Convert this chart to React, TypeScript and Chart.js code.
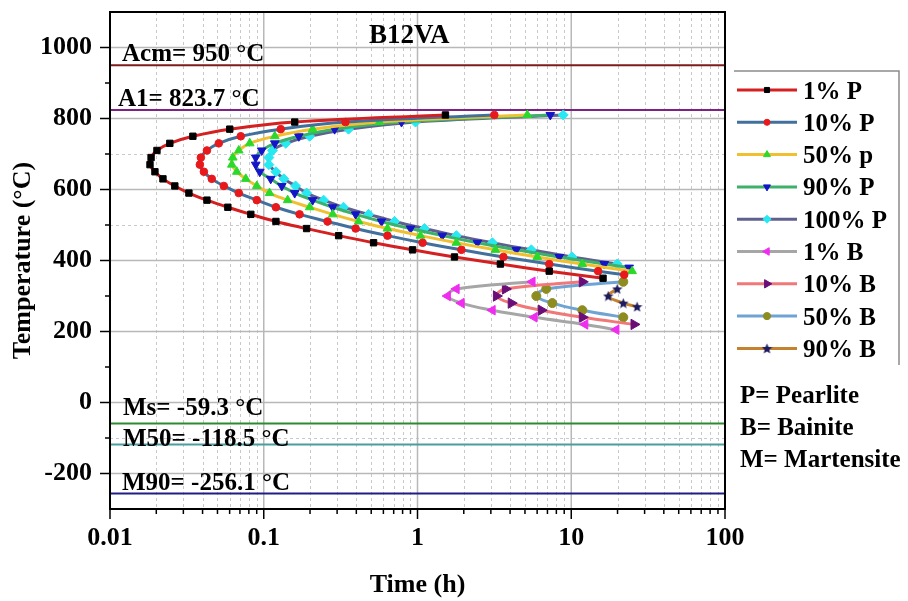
import React, { useEffect, useRef } from 'react';
import { Chart, registerables } from 'chart.js';
import { drawPoint } from 'chart.js/helpers';

Chart.register(...registerables);

const SERIF = '"Liberation Serif", "Times New Roman", Times, serif';

// ---- Data (temperature °C, time h) ----
const p1Temp = [810, 790, 770, 750, 730, 710, 690, 670, 650, 630, 610, 590, 570, 550, 530, 510, 490, 470, 450, 430, 410, 390, 370, 350];
const p1Time = [1.52, 0.159, 0.0601, 0.0346, 0.0245, 0.0202, 0.0185, 0.0182, 0.0196, 0.0221, 0.0264, 0.0326, 0.0427, 0.0584, 0.0824, 0.12, 0.19, 0.307, 0.518, 0.929, 1.74, 3.46, 7.19, 16.1];

const p10Temp = [810, 790, 770, 750, 730, 710, 690, 670, 650, 630, 610, 590, 570, 550, 530, 510, 490, 470, 450, 430, 410, 390, 370, 360];
const p10Time = [3.16, 0.34, 0.129, 0.0709, 0.051, 0.0427, 0.039, 0.0384, 0.0408, 0.0459, 0.055, 0.0688, 0.0901, 0.12, 0.171, 0.26, 0.396, 0.638, 1.08, 1.93, 3.62, 7.19, 14.96, 22.1];

const p50Temp = [810, 790, 770, 750, 730, 710, 690, 670, 650, 630, 610, 590, 570, 550, 530, 510, 490, 470, 450, 430, 410, 390, 370];
const p50Time = [5.18, 0.566, 0.208, 0.118, 0.0811, 0.0688, 0.0629, 0.062, 0.0668, 0.0764, 0.0901, 0.109, 0.143, 0.199, 0.281, 0.414, 0.638, 1.045, 1.79, 3.21, 6.01, 11.8, 24.9];

const p90Temp = [810, 790, 770, 750, 730, 710, 690, 670, 650, 630, 610, 590, 570, 550, 530, 510, 490, 470, 450, 430, 410, 390, 380];
const p90Time = [7.31, 0.787, 0.289, 0.169, 0.118, 0.097, 0.0887, 0.0887, 0.0942, 0.111, 0.131, 0.159, 0.208, 0.281, 0.396, 0.583, 0.901, 1.45, 2.45, 4.39, 8.36, 16.4, 23.8];

const p100Temp = [810, 790, 770, 750, 730, 710, 690, 670, 650, 630, 610, 590, 570, 550, 530, 510, 490, 470, 450, 430, 410, 390];
const p100Time = [8.87, 0.97, 0.356, 0.199, 0.139, 0.114, 0.108, 0.108, 0.12, 0.135, 0.161, 0.19, 0.245, 0.33, 0.481, 0.709, 1.11, 1.79, 3.07, 5.5, 10.1, 19.9];

const b1Temp = [340, 320, 300, 280, 260, 240, 220, 205];
const b1Time = [5.58, 1.79, 1.57, 1.93, 3.07, 5.75, 12.3, 19.6];

const b10Temp = [340, 320, 300, 280, 260, 240, 220];
const b10Time = [11.8, 3.73, 3.26, 4.07, 6.38, 11.8, 25.6];

const b50Temp = [340, 320, 300, 280, 260, 240];
const b50Time = [21.8, 6.88, 5.93, 7.53, 11.8, 21.8];

const b90Temp = [320, 300, 280, 270];
const b90Time = [19.9, 17.4, 21.8, 26.8];

// Critical temperatures (horizontal reference lines)
const refNames = ['Acm= 950 °C', 'A1= 823.7 °C', 'Ms= -59.3 °C', 'M50= -118.5 °C', 'M90= -256.1 °C'];
const refTemps = [950, 823.7, -59.3, -118.5, -256.1];
const refColors = ['#7E1B1B', '#7D2185', '#2F8A2F', '#4A9E9E', '#1E1E86'];

// Axes
const xMin = 0.01;
const xMax = 100;
const yMin = -300;
const yMax = 1100;
const xTickValues = [0.01, 0.1, 1, 10, 100];
const yTickValues = [-200, 0, 200, 400, 600, 800, 1000];
const yMinorTicks = [-100, 100, 300, 500, 700, 900];
const yMinorGrid = [-100, 500, 700];

const seriesLabels = ['1% P', '10% P', '50% p', '90% P', '100% P', '1% B', '10% B', '50% B', '90% B'];
const seriesTemps = [p1Temp, p10Temp, p50Temp, p90Temp, p100Temp, b1Temp, b10Temp, b50Temp, b90Temp];
const seriesTimes = [p1Time, p10Time, p50Time, p90Time, p100Time, b1Time, b10Time, b50Time, b90Time];
const lineColors = ['#D42020', '#41709C', '#F0C030', '#3DB06A', '#5F6090', '#A6A6A6', '#F07878', '#6FA3D3', '#C5822E'];
const markColors = ['#000000', '#E8191C', '#2BD92B', '#1414C8', '#28E8F2', '#F02CF0', '#6A0D78', '#8C8C20', '#1B1B5E'];
const markStyles = ['rect', 'circle', 'triangle', 'triangle', 'rectRot', 'triangle', 'triangle', 'circle', 'star'];
const markRots = [0, 0, 0, 180, 0, -90, 90, 0, 0];
const markRadii = [4.5, 3.8, 5, 5, 5, 5.5, 6, 4.5, 5];

function makeStar(color: string, size: number): HTMLCanvasElement {
  const c = document.createElement('canvas');
  c.width = size;
  c.height = size;
  const g = c.getContext('2d')!;
  g.fillStyle = color;
  g.beginPath();
  const cx = size / 2, cy = size / 2 + 0.5, R = size / 2, r = R * 0.45;
  for (let i = 0; i < 10; i++) {
    const ang = -Math.PI / 2 + (i * Math.PI) / 5;
    const rad = i % 2 === 0 ? R : r;
    const px = cx + rad * Math.cos(ang);
    const py = cy + rad * Math.sin(ang);
    if (i === 0) g.moveTo(px, py);
    else g.lineTo(px, py);
  }
  g.closePath();
  g.fill();
  return c;
}

const decoPlugin = {
  id: 'deco',
  beforeDatasetsDraw(chart: any) {
    const { ctx, chartArea: a, scales } = chart;
    const x = scales.x, y = scales.y;
    ctx.save();
    ctx.lineWidth = 1;
    ctx.strokeStyle = '#c9c9c9';
    ctx.setLineDash([3, 3]);
    for (let d = xMin; d < xMax * 0.99; d *= 10) {
      for (let m = 2; m <= 9; m++) {
        const px = Math.round(x.getPixelForValue(d * m)) + 0.5;
        ctx.beginPath(); ctx.moveTo(px, a.top); ctx.lineTo(px, a.bottom); ctx.stroke();
      }
    }
    for (const v of yMinorGrid) {
      const py = Math.round(y.getPixelForValue(v)) + 0.5;
      ctx.beginPath(); ctx.moveTo(a.left, py); ctx.lineTo(a.right, py); ctx.stroke();
    }
    ctx.setLineDash([]);
    ctx.strokeStyle = '#b8b8b8';
    ctx.lineWidth = 1.5;
    for (const v of xTickValues) {
      const px = x.getPixelForValue(v);
      ctx.beginPath(); ctx.moveTo(px, a.top); ctx.lineTo(px, a.bottom); ctx.stroke();
    }
    for (const v of yTickValues) {
      const py = y.getPixelForValue(v);
      ctx.beginPath(); ctx.moveTo(a.left, py); ctx.lineTo(a.right, py); ctx.stroke();
    }
    ctx.restore();
  },
  afterDatasetsDraw(chart: any) {
    const { ctx, chartArea: a, scales } = chart;
    const x = scales.x, y = scales.y;
    ctx.save();
    ctx.strokeStyle = '#000';
    ctx.lineWidth = 2;
    ctx.strokeRect(a.left, a.top, a.right - a.left, a.bottom - a.top);
    ctx.lineWidth = 1.5;
    for (const v of xTickValues) {
      const px = x.getPixelForValue(v);
      ctx.beginPath(); ctx.moveTo(px, a.bottom); ctx.lineTo(px, a.bottom + 10); ctx.stroke();
    }
    for (let d = xMin; d < xMax * 0.99; d *= 10) {
      for (let m = 2; m <= 9; m++) {
        const px = x.getPixelForValue(d * m);
        ctx.beginPath(); ctx.moveTo(px, a.bottom); ctx.lineTo(px, a.bottom + 5); ctx.stroke();
      }
    }
    for (const v of yTickValues) {
      const py = y.getPixelForValue(v);
      ctx.beginPath(); ctx.moveTo(a.left, py); ctx.lineTo(a.left - 10, py); ctx.stroke();
    }
    for (const v of yMinorTicks) {
      const py = y.getPixelForValue(v);
      ctx.beginPath(); ctx.moveTo(a.left, py); ctx.lineTo(a.left - 5, py); ctx.stroke();
    }
    ctx.restore();
  },
  afterDraw(chart: any) {
    const { ctx, scales } = chart;
    const y = scales.y;
    ctx.save();
    ctx.fillStyle = '#000';
    ctx.textBaseline = 'alphabetic';
    ctx.textAlign = 'left';
    // Title inside plot
    ctx.font = `bold 27px ${SERIF}`;
    ctx.fillText('B12VA', 369, 43);
    // Reference line labels
    ctx.font = `bold 25px ${SERIF}`;
    const offs = [-4, -4, -9, 1, -3];
    const lx = [122, 118, 123, 123, 122];
    refNames.forEach((n, i) => {
      ctx.fillText(n, lx[i], y.getPixelForValue(refTemps[i]) + offs[i]);
    });
    // Legend frame
    ctx.strokeStyle = '#8c8c8c';
    ctx.lineWidth = 1.5;
    ctx.beginPath();
    ctx.moveTo(734, 71); ctx.lineTo(899, 71); ctx.lineTo(899, 365);
    ctx.stroke();
    // Legend entries
    ctx.font = `bold 25px ${SERIF}`;
    seriesLabels.forEach((lab, i) => {
      const cy = 90 + i * 32.3;
      ctx.strokeStyle = lineColors[i];
      ctx.lineWidth = 3;
      ctx.beginPath(); ctx.moveTo(737, cy); ctx.lineTo(797, cy); ctx.stroke();
      ctx.fillStyle = markColors[i];
      ctx.strokeStyle = markColors[i];
      ctx.lineWidth = 1;
      drawPoint(ctx, {
        pointStyle: markStyles[i] === 'star' ? starImg : markStyles[i],
        rotation: markRots[i],
        radius: markRadii[i] * 0.8,
        borderWidth: 1,
      } as any, 767, cy);
      ctx.fillStyle = '#000';
      ctx.fillText(lab, 803, cy + 8.5);
    });
    ctx.fillText('P= Pearlite', 740, 403);
    ctx.fillText('B= Bainite', 740, 435);
    ctx.fillText('M= Martensite', 740, 467);
    ctx.restore();
  },
};

let starImg: any = null;

export default function App() {
  const ref = useRef<HTMLCanvasElement>(null);
  useEffect(() => {
    if (!starImg) starImg = makeStar('#1B1B5E', 11);
    const refSets = refTemps.map((t, i) => ({
      label: refNames[i],
      data: [{ x: xMin, y: t }, { x: xMax, y: t }],
      borderColor: refColors[i],
      borderWidth: 2,
      pointRadius: 0,
      tension: 0,
    }));
    const curveSets = seriesLabels.map((lab, i) => ({
      label: lab,
      data: seriesTimes[i].map((t, j) => ({ x: t, y: seriesTemps[i][j] })),
      borderColor: lineColors[i],
      borderWidth: 3,
      tension: 0.4,
      pointStyle: markStyles[i] === 'star' ? starImg : markStyles[i],
      pointRotation: markRots[i],
      pointRadius: markRadii[i],
      pointBackgroundColor: markColors[i],
      pointBorderColor: markColors[i],
      pointBorderWidth: 1,
      fill: false,
    }));
    const chart = new Chart(ref.current!, {
      type: 'line',
      data: { datasets: [...curveSets, ...refSets] as any },
      options: {
        responsive: false,
        animation: false,
        devicePixelRatio: 1,
        layout: { padding: { left: 0, right: 183, top: 12, bottom: 0 } },
        plugins: { legend: { display: false }, tooltip: { enabled: false }, title: { display: false } },
        scales: {
          x: {
            type: 'logarithmic',
            min: xMin,
            max: xMax,
            afterBuildTicks: (s: any) => { s.ticks = xTickValues.map((v) => ({ value: v })); },
            afterFit: (s: any) => { s.height = 92; s.paddingLeft = 0; s.paddingRight = 0; },
            grid: { display: false, drawTicks: false, tickLength: 0 },
            border: { display: false },
            ticks: {
              autoSkip: false,
              maxRotation: 0,
              padding: 14,
              color: '#000',
              font: { family: SERIF, size: 26, weight: 'bold' },
              callback: (v: any) => String(v),
            },
            title: {
              display: true,
              text: 'Time (h)',
              color: '#000',
              font: { family: SERIF, size: 26, weight: 'bold' },
              padding: { top: 0, bottom: 0 },
            },
          },
          y: {
            type: 'linear',
            min: yMin,
            max: yMax,
            afterBuildTicks: (s: any) => { s.ticks = yTickValues.map((v) => ({ value: v })); },
            afterFit: (s: any) => { s.width = 110; s.paddingTop = 0; s.paddingBottom = 0; },
            grid: { display: false, drawTicks: false, tickLength: 0 },
            border: { display: false },
            ticks: {
              autoSkip: false,
              padding: 18,
              color: '#000',
              font: { family: SERIF, size: 26, weight: 'bold' },
              callback: (v: any) => String(v),
            },
            title: {
              display: true,
              text: 'Temperature (°C)',
              color: '#000',
              font: { family: SERIF, size: 26, weight: 'bold' },
              padding: { top: 8, bottom: 0 },
            },
          },
        },
      } as any,
      plugins: [decoPlugin],
    });
    return () => chart.destroy();
  }, []);
  return (
    <div style={{ position: 'absolute', left: 0, top: 0, width: 908, height: 601, background: '#fff' }}>
      <canvas ref={ref} width={908} height={601} style={{ display: 'block', width: 908, height: 601 }} />
    </div>
  );
}
